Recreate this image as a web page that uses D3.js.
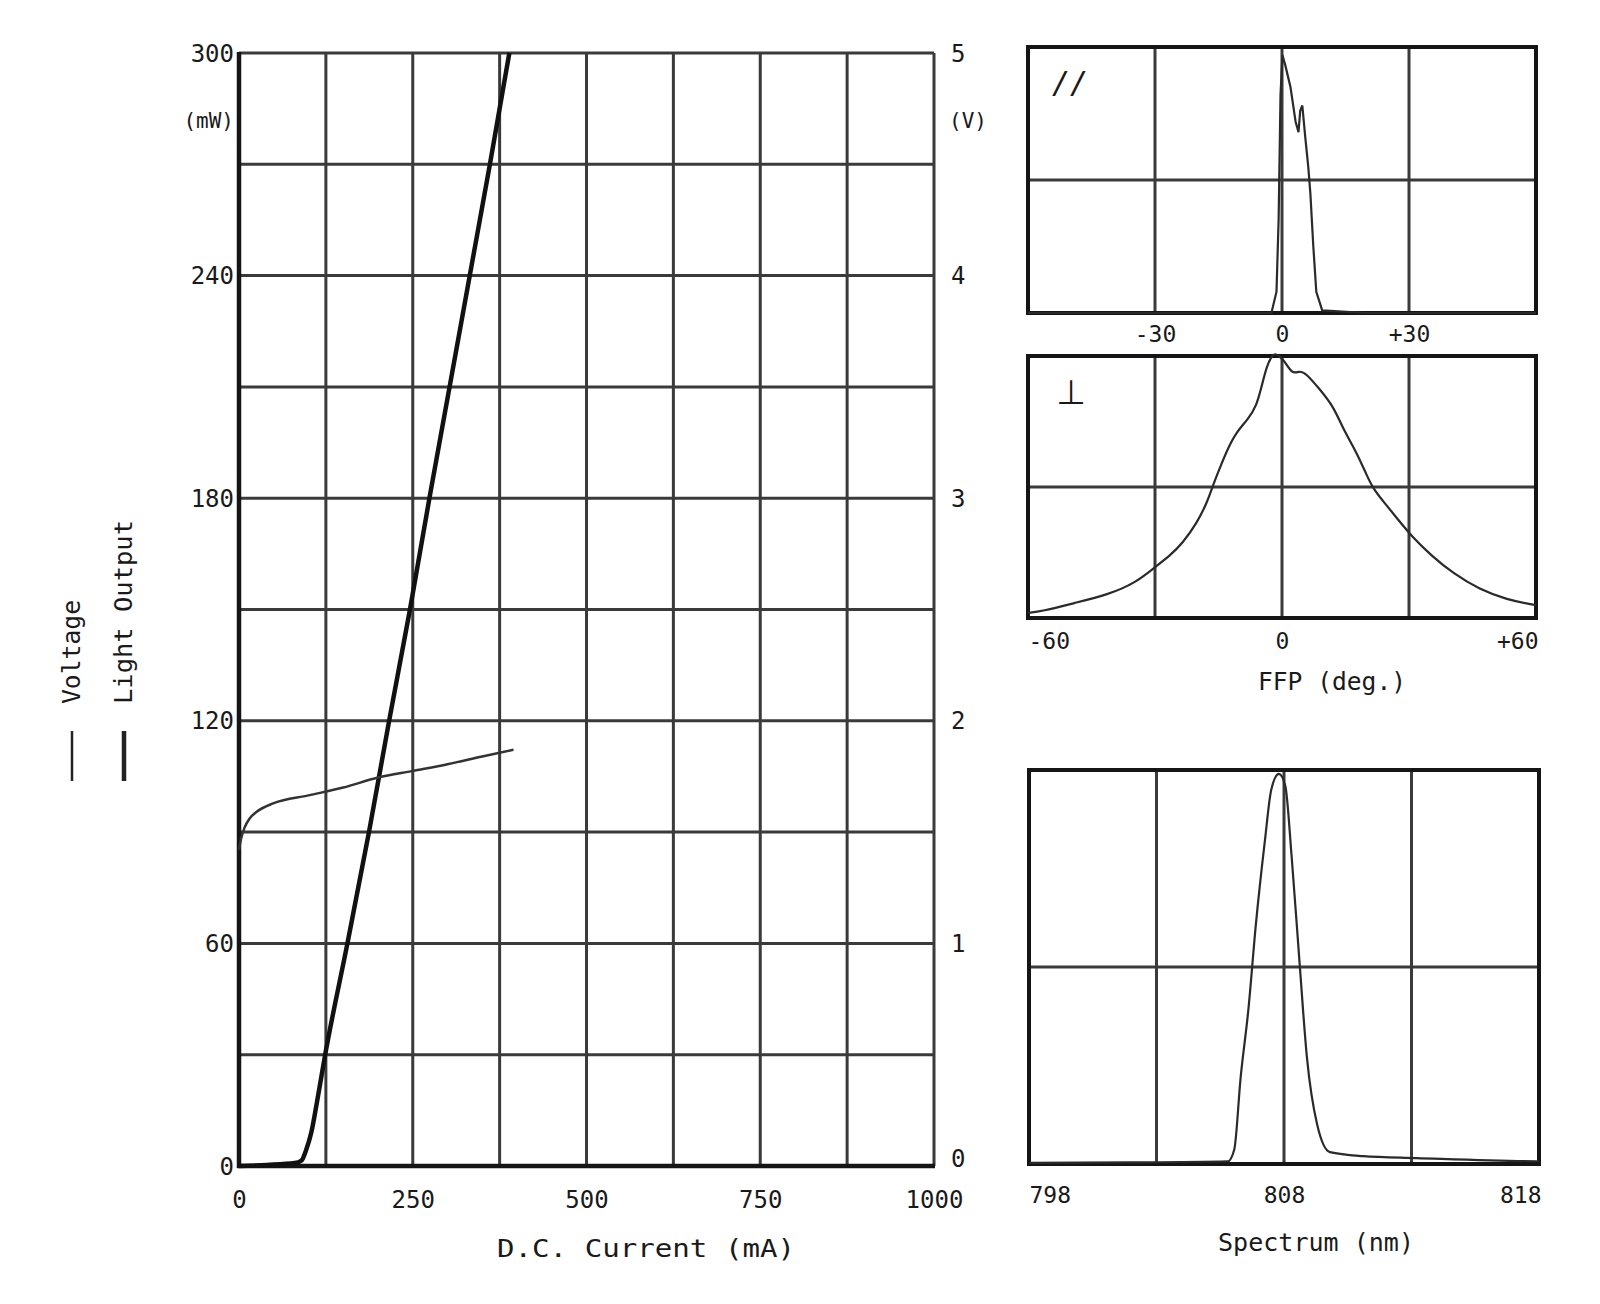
<!DOCTYPE html>
<html>
<head>
<meta charset="utf-8">
<script src="https://cdn.jsdelivr.net/npm/d3@7"></script>
<style>
  html, body { margin: 0; padding: 0; background: #fff; }
  svg { display: block; }
  text { font-family: "DejaVu Sans Mono", "Liberation Mono", monospace; fill: #1a1a1a; }
</style>
</head>
<body>
<svg id="chart" width="1600" height="1304"></svg>
<script>
// ---------- DATA ----------
// Main chart: L-I (light output) and V-I (voltage)
const currentTicks = [0, 250, 500, 750, 1000];
const currentGrid = [125, 250, 375, 500, 625, 750, 875, 1000];
const powerTicks = [0, 60, 120, 180, 240, 300];
const powerGrid = [30, 60, 90, 120, 150, 180, 210, 240, 270, 300];
const voltTicks = [0, 1, 2, 3, 4, 5];

const lightCurrent = [0, 40, 80, 90, 96, 104, 112, 124, 156, 187, 216, 246, 274, 303, 332, 361, 389];
const lightPower   = [0, 0.3, 0.8, 1.5, 4, 9, 17, 30, 60, 90, 120, 150, 180, 210, 240, 270, 300];

const voltCurrent = [0, 3, 8, 15, 25, 50, 100, 150, 200, 250, 300, 350, 395];
const voltage     = [1.42, 1.47, 1.52, 1.56, 1.59, 1.63, 1.665, 1.70, 1.745, 1.775, 1.805, 1.84, 1.87];

// FFP parallel
const ffpTicksTop = [-30, 0, 30];
const ffpTickLabelsTop = ["-30", "0", "+30"];
const parAngle = [-60, -10, -2.5, -1.3, -0.8, -0.35, 0.1, 0.8, 2.0, 3.2, 3.9, 4.3, 4.8, 5.5, 6.2, 6.7, 7.4, 8.1, 9.5, 20, 60];
const parIntensity = [0, 0, 0, 0.08, 0.35, 0.82, 0.97, 0.93, 0.85, 0.72, 0.68, 0.76, 0.78, 0.66, 0.55, 0.45, 0.25, 0.08, 0.01, 0, 0];

// FFP perpendicular
const ffpTicksMid = [-60, 0, 60];
const ffpTickLabelsMid = ["-60", "0", "+60"];
const perpAngle = [-60, -56.8, -49.1, -41.1, -34.6, -29.8, -26.6, -23.4, -20.1, -17.7, -16.1, -14.5, -12.9, -10.9, -8.05, -6.0, -4.8, -3.6, -2.4, -1.6, -0.8, 0.4, 2.4, 4.0, 5.6, 8.9, 12.1, 14.5, 17.7, 20.1, 21.7, 24.2, 27.4, 30.6, 35.4, 40.3, 46.7, 53.2, 59.2, 60];
const perpIntensity = [0.02, 0.025, 0.057, 0.089, 0.134, 0.197, 0.236, 0.287, 0.363, 0.44, 0.516, 0.58, 0.643, 0.707, 0.758, 0.809, 0.885, 0.962, 1.0, 1.01, 1.0, 0.987, 0.93, 0.943, 0.936, 0.873, 0.809, 0.72, 0.63, 0.541, 0.49, 0.44, 0.376, 0.312, 0.236, 0.172, 0.108, 0.07, 0.051, 0.05];

// Spectrum
const specTicks = [798, 808, 818];
const specTickLabels = ["798", "808", "818"];
const specGrid = [803, 808, 813];
const specWave = [798, 802, 805.8, 806.05, 806.3, 806.6, 806.9, 807.25, 807.5, 807.8, 808.05, 808.3, 808.6, 808.9, 809.3, 809.8, 811.1, 813.2, 817.9, 818];
const specIntensity = [0.003, 0.004, 0.007, 0.037, 0.22, 0.39, 0.61, 0.82, 0.95, 0.99, 0.96, 0.78, 0.52, 0.27, 0.10, 0.03, 0.02, 0.015, 0.007, 0.007];

// ---------- DRAWING ----------
const svg = d3.select("#chart");
const GRID = "#3a3a3a";
const FRAME = "#151515";
const FS = 24;

// Main scales
const x = d3.scaleLinear().domain([0, 1000]).range([239, 934]);
const yP = d3.scaleLinear().domain([0, 300]).range([1166, 53]);
const yV = d3.scaleLinear().domain([0, 5]).range([1166, 53]);

const main = svg.append("g");
// vertical grid
main.append("g").selectAll("line").data(currentGrid).join("line")
  .attr("x1", d => x(d)).attr("x2", d => x(d))
  .attr("y1", yP(300)).attr("y2", yP(0))
  .attr("stroke", GRID).attr("stroke-width", 3);
// horizontal grid
main.append("g").selectAll("line").data(powerGrid).join("line")
  .attr("x1", x(0)).attr("x2", x(1000))
  .attr("y1", d => yP(d)).attr("y2", d => yP(d))
  .attr("stroke", GRID).attr("stroke-width", 3);
// frame left & bottom
main.append("line").attr("x1", x(0)).attr("x2", x(0)).attr("y1", yP(300) - 1).attr("y2", yP(0) + 2)
  .attr("stroke", FRAME).attr("stroke-width", 4.5);
main.append("line").attr("x1", x(0) - 2).attr("x2", x(1000) + 1).attr("y1", yP(0)).attr("y2", yP(0))
  .attr("stroke", FRAME).attr("stroke-width", 4.5);

// axes labels
function styleAxis(g) {
  g.select(".domain").remove();
  g.selectAll("text").style("font-family", '"DejaVu Sans Mono", monospace').style("font-size", FS + "px").attr("fill", "#1a1a1a");
}
const fmt = d3.format("d");
const axB = main.append("g").attr("transform", `translate(0,${yP(0)})`)
  .call(d3.axisBottom(x).tickValues(currentTicks).tickSize(0).tickFormat(fmt)).call(styleAxis);
axB.selectAll("text").attr("dy", null).attr("y", 34).attr("dominant-baseline", "central");

const axL = main.append("g").attr("transform", `translate(${x(0)},0)`)
  .call(d3.axisLeft(yP).tickValues(powerTicks).tickSize(0).tickPadding(5).tickFormat(fmt)).call(styleAxis);
axL.selectAll("text").attr("dy", null).attr("dominant-baseline", "central");

const axR = main.append("g").attr("transform", `translate(${x(1000)},0)`)
  .call(d3.axisRight(yV).tickValues(voltTicks).tickSize(0).tickPadding(17).tickFormat(fmt)).call(styleAxis);
axR.selectAll("text").attr("dy", null).attr("dominant-baseline", "central");
axR.selectAll(".tick").filter(d => d === 0).select("text").attr("y", -8);

main.append("text").attr("x", x(0) - 5).attr("y", 121).attr("text-anchor", "end")
  .attr("dominant-baseline", "central").style("font-size", "21px").text("(mW)");
main.append("text").attr("x", x(1000) + 15).attr("y", 121).attr("text-anchor", "start")
  .attr("dominant-baseline", "central").style("font-size", "21px").text("(V)");

main.append("text").attr("x", 646).attr("y", 1248).attr("text-anchor", "middle")
  .attr("dominant-baseline", "central").style("font-size", "25px")
  .attr("textLength", 298).attr("lengthAdjust", "spacingAndGlyphs")
  .text("D.C.  Current (mA)");

// curves
const lightLine = d3.line().x((d, i) => x(lightCurrent[i])).y((d, i) => yP(lightPower[i])).curve(d3.curveMonotoneX);
main.append("path").datum(lightPower).attr("d", lightLine)
  .attr("fill", "none").attr("stroke", "#111").attr("stroke-width", 4.5);

const voltLine = d3.line().x((d, i) => x(voltCurrent[i])).y((d, i) => yV(voltage[i])).curve(d3.curveMonotoneX);
main.append("path").datum(voltage).attr("d", voltLine)
  .attr("fill", "none").attr("stroke", "#333").attr("stroke-width", 2.5);

// legend (rotated)
function legend(cx, by, label, width, len) {
  const g = svg.append("g").attr("transform", `translate(${cx},${by}) rotate(-90)`);
  g.append("line").attr("x1", 0).attr("x2", 50).attr("y1", 0).attr("y2", 0)
    .attr("stroke", "#222").attr("stroke-width", width);
  g.append("text").attr("x", 77).attr("y", 0).attr("dominant-baseline", "central")
    .style("font-size", "24px").attr("textLength", len).attr("lengthAdjust", "spacingAndGlyphs").text(label);
}
legend(72, 781, "Voltage", 2.5, 104);
legend(124, 781, "Light Output", 4.5, 184);

// ---------- Panels ----------
function panel(opts) {
  const px = d3.scaleLinear().domain(opts.xDomain).range([opts.left, opts.right]);
  const py = d3.scaleLinear().domain([0, 1]).range([opts.bottom, opts.top]);
  const g = svg.append("g");
  g.append("g").selectAll("line").data(opts.xGrid).join("line")
    .attr("x1", d => px(d)).attr("x2", d => px(d)).attr("y1", opts.top).attr("y2", opts.bottom)
    .attr("stroke", GRID).attr("stroke-width", 3);
  g.append("line").attr("x1", opts.left).attr("x2", opts.right).attr("y1", py(0.5)).attr("y2", py(0.5))
    .attr("stroke", GRID).attr("stroke-width", 3);
  g.append("rect").attr("x", opts.left).attr("y", opts.top)
    .attr("width", opts.right - opts.left).attr("height", opts.bottom - opts.top)
    .attr("fill", "none").attr("stroke", FRAME).attr("stroke-width", 4);
  const line = d3.line().x((d, i) => px(opts.xs[i])).y((d, i) => py(opts.ys[i])).curve(opts.curve);
  g.append("path").datum(opts.ys).attr("d", line)
    .attr("fill", "none").attr("stroke", "#2a2a2a").attr("stroke-width", 2.2);
  const ax = g.append("g").attr("transform", `translate(0,${opts.bottom})`)
    .call(d3.axisBottom(px).tickValues(opts.ticks).tickSize(0).tickFormat((d, i) => opts.tickLabels[i]))
    .call(styleAxis);
  ax.selectAll("text").attr("dy", null).attr("y", opts.labelOffset).attr("dominant-baseline", "central")
    .style("font-size", "23px");
  if (opts.edgeLabels) {
    const n = opts.ticks.length;
    ax.selectAll(".tick").filter((d, i) => i === 0).select("text").attr("text-anchor", "start").attr("x", 0);
    ax.selectAll(".tick").filter((d, i) => i === n - 1).select("text").attr("text-anchor", "end").attr("x", 2);
  }
  return g;
}

const pTop = panel({
  xDomain: [-60, 60], left: 1028, right: 1536, top: 47, bottom: 313,
  xGrid: ffpTicksTop, ticks: ffpTicksTop, tickLabels: ffpTickLabelsTop, labelOffset: 21,
  xs: parAngle, ys: parIntensity, curve: d3.curveLinear
});
pTop.append("text").attr("x", 1070).attr("y", 82).attr("text-anchor", "middle")
  .attr("dominant-baseline", "central").style("font-size", "30px").style("font-style", "italic").text("//");

const pMid = panel({
  xDomain: [-60, 60], left: 1028, right: 1536, top: 356, bottom: 618,
  xGrid: [-30, 0, 30], ticks: ffpTicksMid, tickLabels: ffpTickLabelsMid, labelOffset: 23, edgeLabels: true,
  xs: perpAngle, ys: perpIntensity, curve: d3.curveBasis
});
pMid.append("text").attr("x", 1071).attr("y", 392).attr("text-anchor", "middle")
  .attr("dominant-baseline", "central").style("font-size", "34px").style("font-family", '"DejaVu Sans", sans-serif').text("\u22A5");
svg.append("text").attr("x", 1332).attr("y", 682).attr("text-anchor", "middle")
  .attr("dominant-baseline", "central").style("font-size", "24px")
  .attr("textLength", 148).attr("lengthAdjust", "spacingAndGlyphs").text("FFP (deg.)");

const pBot = panel({
  xDomain: [798, 818], left: 1029, right: 1539, top: 770, bottom: 1164,
  xGrid: specGrid, ticks: specTicks, tickLabels: specTickLabels, labelOffset: 31, edgeLabels: true,
  xs: specWave, ys: specIntensity, curve: d3.curveMonotoneX
});
svg.append("text").attr("x", 1316).attr("y", 1243).attr("text-anchor", "middle")
  .attr("dominant-baseline", "central").style("font-size", "24px")
  .attr("textLength", 196).attr("lengthAdjust", "spacingAndGlyphs").text("Spectrum (nm)");
</script>
</body>
</html>
